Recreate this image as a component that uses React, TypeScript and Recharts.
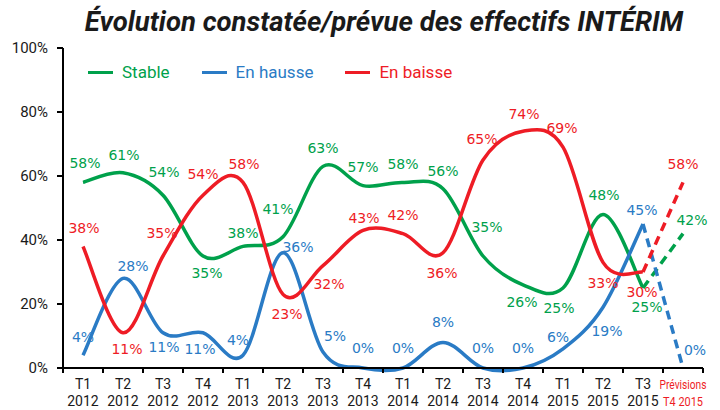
import React from 'react';
import { LineChart, Line, XAxis, YAxis, LabelList } from 'recharts';

const categories = [
  'T1\n2012', 'T2\n2012', 'T3\n2012', 'T4\n2012',
  'T1\n2013', 'T2\n2013', 'T3\n2013', 'T4\n2013',
  'T1\n2014', 'T2\n2014', 'T3\n2014', 'T4\n2014',
  'T1\n2015', 'T2\n2015', 'T3\n2015', 'Prévisions\nT4 2015',
];

// observed quarters
const stable = [58, 61, 54, 35, 38, 41, 63, 57, 58, 56, 35, 26, 25, 48, 25];
const hausse = [4, 28, 11, 11, 4, 36, 5, 0, 0, 8, 0, 0, 6, 19, 45];
const baisse = [38, 11, 35, 54, 58, 23, 32, 43, 42, 36, 65, 74, 69, 33, 30];

// forecast T4 2015
const stableForecast = 42;
const hausseForecast = 0;
const baisseForecast = 58;

const yTicks = [0, 20, 40, 60, 80, 100];

// label offsets from each point (dx, dy), one per category
const stableDx = [2, 1, 1, 4, 0, -5, 0, 0, 0, 0, 4, -1, -4, 1, 4, 9];
const stableDy = [-19, -18, -23, 17, -13, -28, -18, -19, -18, -18, -29, 17, 20, -19, 19, -14];
const hausseDx = [0, 10, 1, -3, -5, 15, 12, 0, 0, 0, 0, 0, -5, 4, -1, 12];
const hausseDy = [-18, -12, 14, 16, -15, -6, -16, -20, -20, -20, -20, -20, -12, 24, -14, -18];
const baisseDx = [1, 4, -1, 0, 1, 4, 6, 1, 0, -1, -1, 1, -1, 0, -1, 0];
const baisseDy = [-18, 16, -23, -21, -18, 20, 18, -12, -19, 20, -21, -17, -19, 21, 20, -18];

const GREEN = '#00a14b';
const BLUE = '#2a7bc5';
const RED = '#ee1c25';

const LAST = categories.length - 1;

const rows = categories.map((cat, i) => ({
  cat,
  stable: i < LAST ? stable[i] : null,
  hausse: i < LAST ? hausse[i] : null,
  baisse: i < LAST ? baisse[i] : null,
  stableF: i === LAST ? stableForecast : i === LAST - 1 ? stable[i] : null,
  hausseF: i === LAST ? hausseForecast : i === LAST - 1 ? hausse[i] : null,
  baisseF: i === LAST ? baisseForecast : i === LAST - 1 ? baisse[i] : null,
}));

const WIDTH = 720;
const HEIGHT = 410;
const MARGIN = { top: 48, right: 17, bottom: 0, left: 0 };
const Y_AXIS_W = 63;
const X_AXIS_H = 42;
const BAND = (WIDTH - MARGIN.left - MARGIN.right - Y_AXIS_W) / categories.length;

// smoothed line like the spreadsheet one (Catmull-Rom through the points)
const smooth = (context: any) => {
  let pts: number[][] = [];
  return {
    areaStart() {},
    areaEnd() {},
    lineStart() { pts = []; },
    lineEnd() {
      const n = pts.length;
      if (!n) return;
      context.moveTo(pts[0][0], pts[0][1]);
      for (let i = 0; i < n - 1; i++) {
        const p0 = pts[i - 1] || pts[i];
        const p1 = pts[i];
        const p2 = pts[i + 1];
        const p3 = pts[i + 2] || p2;
        context.bezierCurveTo(
          p1[0] + (p2[0] - p0[0]) / 6, p1[1] + (p2[1] - p0[1]) / 6,
          p2[0] - (p3[0] - p1[0]) / 6, p2[1] - (p3[1] - p1[1]) / 6,
          p2[0], p2[1],
        );
      }
    },
    point(x: number, y: number) { pts.push([+x, +y]); },
  };
};

const makeLabel = (color: string, dx: number[], dy: number[], onlyLast = false) => (props: any) => {
  const { x, y, value, index } = props;
  if (value == null) return null;
  if (onlyLast && index !== LAST) return null;
  if (!onlyLast && index === LAST) return null;
  return (
    <text
      x={x + dx[index]}
      y={y + dy[index]}
      textAnchor="middle"
      dominantBaseline="central"
      fill={color}
      fontSize={14}
      fontFamily="'DejaVu Sans', sans-serif"
    >
      {value}%
    </text>
  );
};

const XTick = (props: any) => {
  const { x, y, payload, index } = props;
  const [l1, l2] = String(payload.value).split('\n');
  const forecast = index === LAST;
  const color = forecast ? RED : '#1a1a1a';
  const size = forecast ? 13 : 14;
  const squeeze1 = forecast ? { textLength: 47, lengthAdjust: 'spacingAndGlyphs' } : {};
  const squeeze2 = forecast ? { textLength: 40, lengthAdjust: 'spacingAndGlyphs' } : {};
  return (
    <g>
      <line x1={x - BAND / 2} x2={x - BAND / 2} y1={y} y2={y + 5} stroke="#000" strokeWidth={2} />
      {forecast && <line x1={x + BAND / 2} x2={x + BAND / 2} y1={y} y2={y + 5} stroke="#000" strokeWidth={2} />}
      <text x={x} y={y + 16} textAnchor="middle" dominantBaseline="central" fill={color} fontSize={size} fontFamily="Roboto, sans-serif" {...squeeze1}>
        {l1}
      </text>
      <text x={x} y={y + 33} textAnchor="middle" dominantBaseline="central" fill={color} fontSize={size} fontFamily="Roboto, sans-serif" {...squeeze2}>
        {l2}
      </text>
    </g>
  );
};

const legendItems = [
  { name: 'Stable', color: GREEN },
  { name: 'En hausse', color: BLUE },
  { name: 'En baisse', color: RED },
];

export default function App() {
  return (
    <div style={{ position: 'absolute', left: 0, top: 0, width: WIDTH, height: HEIGHT, background: '#fff' }}>
      <div
        style={{
          position: 'absolute',
          left: 0,
          width: WIDTH,
          top: 5,
          textAlign: 'center',
          paddingLeft: 48,
          boxSizing: 'border-box',
          fontFamily: 'Roboto, sans-serif',
          fontWeight: 700,
          fontStyle: 'italic',
          fontSize: 27.5,
          color: '#1a1a1a',
        }}
      >
        Évolution constatée/prévue des effectifs INTÉRIM
      </div>
      <LineChart width={WIDTH} height={HEIGHT} data={rows} margin={MARGIN}>
        <XAxis
          dataKey="cat"
          interval={0}
          height={X_AXIS_H}
          padding={{ left: BAND / 2, right: BAND / 2 }}
          tickSize={0}
          tickMargin={0}
          tick={<XTick />}
          axisLine={{ stroke: '#000', strokeWidth: 2 }}
          tickLine={false}
        />
        <YAxis
          width={Y_AXIS_W}
          domain={[0, 100]}
          ticks={yTicks}
          tickFormatter={(v) => `${v}%`}
          tick={{ fill: '#1a1a1a', fontSize: 15, fontFamily: 'Roboto, sans-serif' }}
          tickSize={6}
          tickMargin={9}
          tickLine={{ stroke: '#000', strokeWidth: 2 }}
          axisLine={{ stroke: '#000', strokeWidth: 2 }}
        />
        <Line dataKey="stable" type={smooth as any} stroke={GREEN} strokeWidth={3.5} dot={false} isAnimationActive={false}>
          <LabelList dataKey="stable" content={makeLabel(GREEN, stableDx, stableDy)} />
        </Line>
        <Line dataKey="hausse" type={smooth as any} stroke={BLUE} strokeWidth={3.5} dot={false} isAnimationActive={false}>
          <LabelList dataKey="hausse" content={makeLabel(BLUE, hausseDx, hausseDy)} />
        </Line>
        <Line dataKey="baisse" type={smooth as any} stroke={RED} strokeWidth={3.5} dot={false} isAnimationActive={false}>
          <LabelList dataKey="baisse" content={makeLabel(RED, baisseDx, baisseDy)} />
        </Line>
        <Line dataKey="stableF" type="linear" stroke={GREEN} strokeWidth={3.5} strokeDasharray="9 6" dot={false} isAnimationActive={false}>
          <LabelList dataKey="stableF" content={makeLabel(GREEN, stableDx, stableDy, true)} />
        </Line>
        <Line dataKey="hausseF" type="linear" stroke={BLUE} strokeWidth={3.5} strokeDasharray="9 6" dot={false} isAnimationActive={false}>
          <LabelList dataKey="hausseF" content={makeLabel(BLUE, hausseDx, hausseDy, true)} />
        </Line>
        <Line dataKey="baisseF" type="linear" stroke={RED} strokeWidth={3.5} strokeDasharray="9 6" dot={false} isAnimationActive={false}>
          <LabelList dataKey="baisseF" content={makeLabel(RED, baisseDx, baisseDy, true)} />
        </Line>
      </LineChart>
      <div
        style={{
          position: 'absolute',
          left: 88,
          top: 62,
          display: 'flex',
          gap: 32,
          fontFamily: 'Roboto, sans-serif',
          fontSize: 17,
        }}
      >
        {legendItems.map((it) => (
          <div key={it.name} style={{ display: 'flex', alignItems: 'center', color: it.color }}>
            <span style={{ display: 'inline-block', width: 25, height: 3, background: it.color, marginRight: 9 }} />
            {it.name}
          </div>
        ))}
      </div>
    </div>
  );
}
